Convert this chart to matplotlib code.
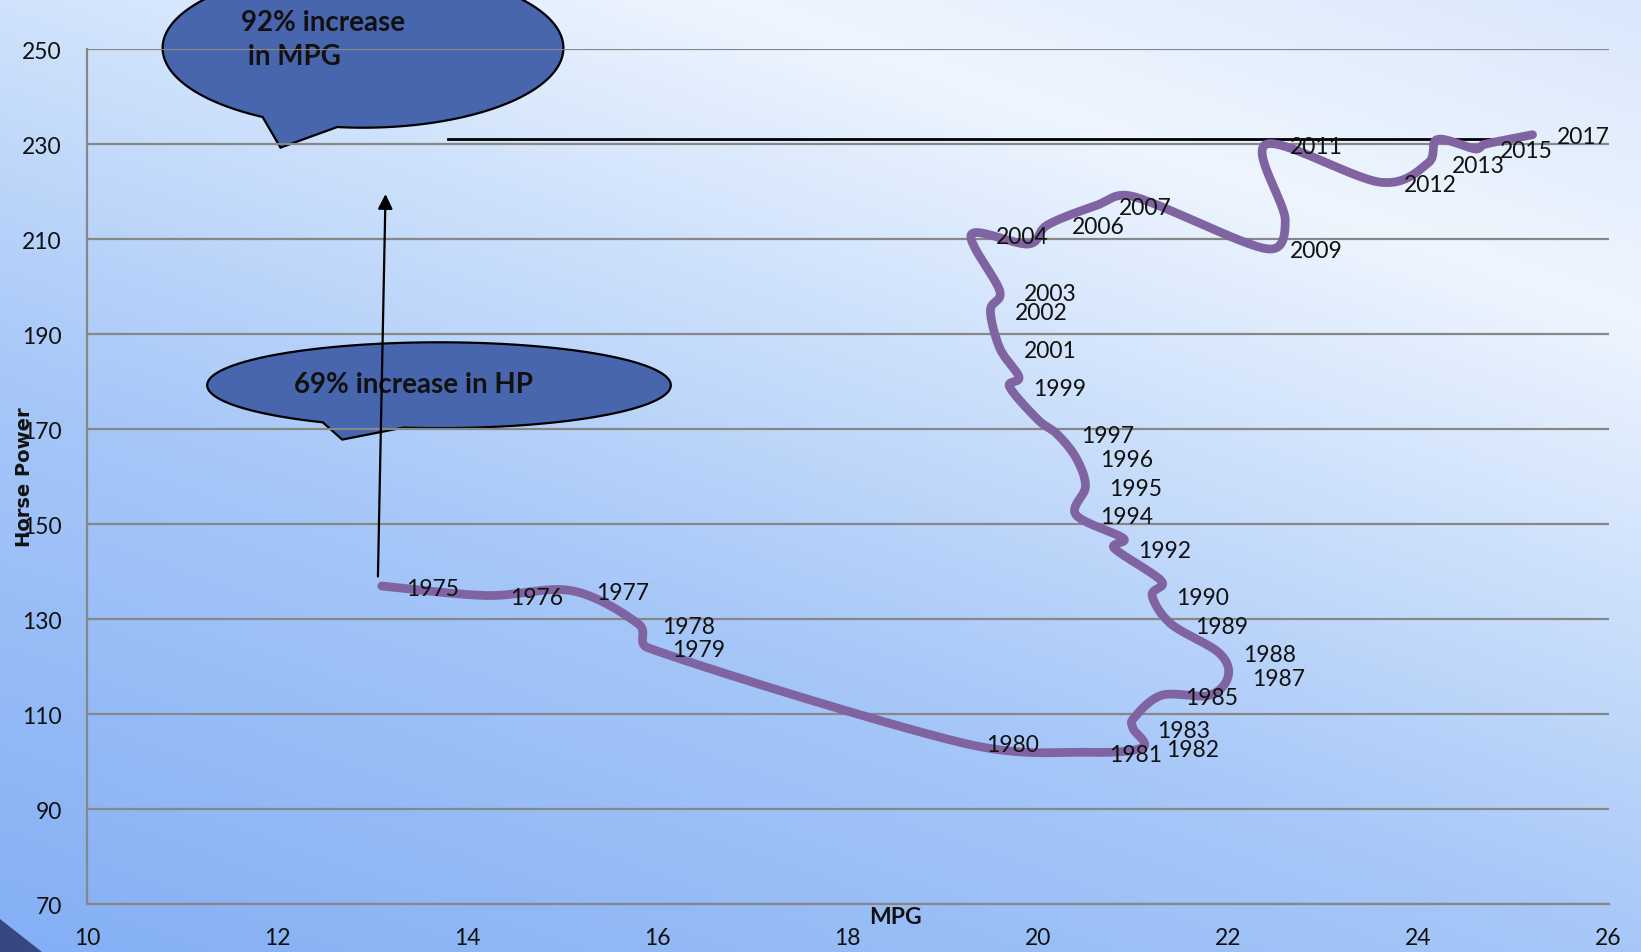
import numpy as np
import matplotlib
matplotlib.use('Agg')
import matplotlib.pyplot as plt
from matplotlib.colors import LinearSegmentedColormap
from matplotlib.path import Path
from matplotlib.patches import PathPatch, Polygon

# ---------------- data ----------------
years = list(range(1975, 2018))
mpg = [13.1, 14.2, 15.1, 15.8, 15.9, 19.2, 20.5, 21.1, 21.0, 21.0,
       21.3, 21.8, 22.0, 21.9, 21.4, 21.2, 21.3, 20.8, 20.9, 20.4,
       20.5, 20.4, 20.2, 20.0, 19.7, 19.8, 19.6, 19.5, 19.6, 19.3,
       19.9, 20.1, 20.6, 21.0, 22.4, 22.6, 22.4, 23.6, 24.1, 24.2,
       24.6, 24.7, 25.2]
hp = [137, 135, 136, 129, 124, 104, 102, 103, 107, 109,
      114, 114, 118, 123, 129, 135, 138, 145, 147, 152,
      158, 164, 169, 172, 179, 181, 187, 195, 199, 211,
      209, 213, 217, 219, 208, 214, 230, 222, 226, 231,
      229, 230, 232]
labeled_years = [1975, 1976, 1977, 1978, 1979, 1980, 1981, 1982, 1983, 1985,
                 1987, 1988, 1989, 1990, 1992, 1994, 1995, 1996, 1997, 1999,
                 2001, 2002, 2003, 2004, 2006, 2007, 2009, 2011, 2012, 2013,
                 2015, 2017]
x_ticks = [10, 12, 14, 16, 18, 20, 22, 24, 26]
y_ticks = [70, 90, 110, 130, 150, 170, 190, 210, 230, 250]
x_label = 'MPG'
y_label = 'Horse Power'
mpg_callout = ['92% increase', ' in MPG']
hp_callout = '69% increase in HP'

# reference lines (annotation)
hline_y = 231.2
hline_x = (13.8, 25.09)
arrow_from = (13.06, 139.0)
arrow_to = (13.14, 219.5)

LINE_COLOR = '#8064a2'
GRID_COLOR = '#878787'
CALLOUT_FC = '#4866ae'

W, H = 1641, 953
fig = plt.figure(figsize=(W / 100, H / 100), dpi=100)

# ---------------- background ----------------
bg = fig.add_axes([0, 0, 1, 1], zorder=-10)
yy, xx = np.mgrid[0:H, 0:W]
t = (xx / W) * 0.45 + (1 - yy / H) * 0.75
cmap = LinearSegmentedColormap.from_list(
    'bg', [(0, '#84aff5'), (0.45 / 1.2, '#a6c7f8'), (0.7 / 1.2, '#c9defb'),
           (0.95 / 1.2, '#eef5fe'), (1, '#dae8fc')])
bg.imshow(t / 1.2, cmap=cmap, vmin=0, vmax=1, extent=(0, W, H, 0),
          aspect='auto', interpolation='bilinear')
bg.set_xlim(0, W)
bg.set_ylim(H, 0)
bg.axis('off')
bg.add_patch(Polygon([(0, 920), (42, 953), (0, 953)], closed=True,
                     facecolor='#36487f', edgecolor='none'))

# ---------------- callouts (pixel overlay) ----------------
ov = fig.add_axes([0, 0, 1, 1], zorder=-5)
ov.set_xlim(0, W)
ov.set_ylim(H, 0)
ov.axis('off')
ov.patch.set_alpha(0)


def callout(axo, cx, cy, a, b, base1, tip, base2):
    th1 = np.arctan2((base1[1] - cy) / b, (base1[0] - cx) / a)
    th2 = np.arctan2((base2[1] - cy) / b, (base2[0] - cx) / a)
    if th2 + 2 * np.pi < th1:
        th2 += 2 * np.pi
    ang = np.linspace(th1, th2 + 2 * np.pi, 400)
    pts = np.c_[cx + a * np.cos(ang), cy + b * np.sin(ang)]
    pts = np.vstack([pts, [tip], pts[:1]])
    codes = [Path.MOVETO] + [Path.LINETO] * (len(pts) - 2) + [Path.CLOSEPOLY]
    axo.add_patch(PathPatch(Path(pts, codes), facecolor=CALLOUT_FC,
                            edgecolor='black', lw=1.6, joinstyle='miter',
                            clip_on=False))


callout(ov, 363, 49, 200.4, 79.7, (263.7, 117.2), (280.5, 148.6), (337, 128.7))
callout(ov, 439, 386.2, 231.8, 42.9, (324.4, 422.8), (342.2, 440.6), (403, 429.1))

ov.text(241, 23, mpg_callout[0], ha='left', va='center', family='Lato',
        weight='bold', fontsize=20, color='#111111')
ov.text(241, 57, mpg_callout[1], ha='left', va='center', family='Lato',
        weight='bold', fontsize=20, color='#111111')
ov.text(414, 385, hp_callout, ha='center', va='center', family='Lato',
        weight='bold', fontsize=20, color='#111111')

# ---------------- main axes ----------------
ax = fig.add_axes([86.9 / W, (H - 905.3) / H, (1608.6 - 86.9) / W,
                   (905.3 - 50.2) / H], zorder=0)
ax.set_facecolor('none')
ax.set_xlim(10, 26)
ax.set_ylim(70, 250)
ax.set_xticks(x_ticks)
ax.set_yticks(y_ticks)
for s in ['top', 'right']:
    ax.spines[s].set_visible(False)
for s in ['left', 'bottom']:
    ax.spines[s].set_color(GRID_COLOR)
    ax.spines[s].set_linewidth(1.6)
ax.yaxis.grid(True, color=GRID_COLOR, lw=1.6)
ax.set_axisbelow(True)
ax.tick_params(axis='both', length=0, labelsize=16.5, labelcolor='#111111')
ax.tick_params(axis='x', pad=16)
ax.tick_params(axis='y', pad=18)
for lab in ax.get_xticklabels() + ax.get_yticklabels():
    lab.set_family('Lato')

# smooth curve (Excel-like Bezier with limited tension), in display space
fig.canvas.draw()
P = ax.transData.transform(np.c_[mpg, hp])
n = len(P)
curve = []
for i in range(n - 1):
    p0 = P[max(i - 1, 0)]
    p1 = P[i]
    p2 = P[i + 1]
    p3 = P[min(i + 2, n - 1)]
    d12 = np.hypot(*(p2 - p1))
    d02 = np.hypot(*(p2 - p0))
    d13 = np.hypot(*(p3 - p1))
    f1 = min(1 / 6, 0.5 * d12 / d02) if d02 > 0 else 0
    f2 = min(1 / 6, 0.5 * d12 / d13) if d13 > 0 else 0
    c1 = p1 + (p2 - p0) * f1
    c2 = p2 - (p3 - p1) * f2
    tt = np.linspace(0, 1, 30)[:, None]
    seg = ((1 - tt) ** 3) * p1 + 3 * ((1 - tt) ** 2) * tt * c1 + \
        3 * (1 - tt) * tt ** 2 * c2 + tt ** 3 * p2
    curve.append(seg if i == 0 else seg[1:])
curve = np.vstack(curve)
curve_data = ax.transData.inverted().transform(curve)

ax.plot([hline_x[0], hline_x[1]], [hline_y, hline_y], color='black', lw=2.0,
        zorder=3)
ax.plot(curve_data[:, 0], curve_data[:, 1], color=LINE_COLOR, lw=6.3,
        solid_capstyle='round', solid_joinstyle='round', zorder=4)

for yr, m, h in zip(years, mpg, hp):
    if yr in labeled_years:
        ax.annotate(str(yr), (m, h), xytext=(24, -2), textcoords='offset pixels',
                    ha='left', va='center', fontsize=16.5, family='Lato',
                    color='#111111', zorder=5)

ax.annotate('', xy=arrow_to, xytext=arrow_from,
            arrowprops=dict(arrowstyle='-|>', color='black', lw=1.6,
                            mutation_scale=22, shrinkA=0, shrinkB=0),
            zorder=6)

fig.text(895 / W, 1 - 918 / H, x_label, ha='center', va='center',
         family='Lato', weight='bold', fontsize=16.5, color='#111111')
fig.text(25 / W, 1 - 477 / H, y_label, ha='center', va='center', rotation=90,
         family='DejaVu Sans', weight='bold', fontsize=14, color='#111111')

fig.savefig('out.png', dpi=100)
